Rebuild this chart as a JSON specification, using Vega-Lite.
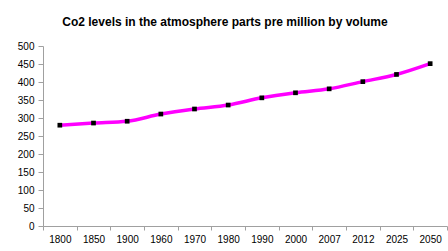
{
  "$schema": "https://vega.github.io/schema/vega-lite/v6.json",
  "width": 404,
  "height": 180,
  "autosize": {"type": "none"},
  "padding": {"left": 43, "top": 46, "right": 1, "bottom": 25},
  "background": "white",
  "title": {
    "text": "Co2 levels in the atmosphere parts pre million by volume",
    "font": "Liberation Sans",
    "fontSize": 12,
    "fontWeight": "bold",
    "color": "black",
    "anchor": "middle",
    "dx": -20,
    "offset": 12
  },
  "config": {
    "view": {"stroke": null},
    "axis": {
      "labelFont": "Liberation Sans",
      "labelFontSize": 10,
      "labelColor": "black",
      "domainColor": "#a0a0a0",
      "tickColor": "#a0a0a0",
      "grid": false,
      "title": null
    }
  },
  "data": {
    "values": [
      {"year": "1800", "ppm": 280},
      {"year": "1850", "ppm": 286},
      {"year": "1900", "ppm": 291},
      {"year": "1960", "ppm": 311},
      {"year": "1970", "ppm": 325},
      {"year": "1980", "ppm": 336},
      {"year": "1990", "ppm": 356},
      {"year": "2000", "ppm": 370},
      {"year": "2007", "ppm": 381},
      {"year": "2012", "ppm": 401},
      {"year": "2025", "ppm": 421},
      {"year": "2050", "ppm": 451}
    ]
  },
  "encoding": {
    "x": {
      "field": "year",
      "type": "ordinal",
      "sort": null,
      "scale": {"type": "band", "paddingInner": 0, "paddingOuter": 0},
      "axis": {"labelAngle": 0, "tickBand": "extent", "tickSize": 4, "labelPadding": 4}
    },
    "y": {
      "field": "ppm",
      "type": "quantitative",
      "scale": {"domain": [0, 500], "nice": false},
      "axis": {"values": [0, 50, 100, 150, 200, 250, 300, 350, 400, 450, 500], "tickSize": 5, "labelPadding": 4}
    }
  },
  "layer": [
    {
      "mark": {"type": "line", "color": "#FF00FF", "strokeWidth": 3.5, "interpolate": "monotone"}
    },
    {
      "mark": {"type": "point", "shape": "square", "filled": true, "color": "black", "size": 22, "opacity": 1}
    }
  ]
}
